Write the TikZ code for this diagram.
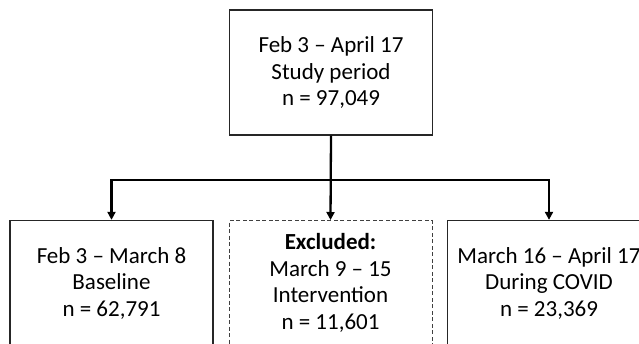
\documentclass[tikz,border=0pt]{standalone}
\usepackage{fontspec}
\setmainfont{Carlito}
\usetikzlibrary{arrows.meta}
\begin{document}
\begin{tikzpicture}[x=1pt,y=-1pt,
  box/.style={draw=black!85, line width=1.3pt, minimum width=203pt, minimum height=125pt,
    inner sep=0pt, align=center, font=\fontsize{23}{26.5}\selectfont, text=black},
  dbox/.style={box, draw=black!75, line width=1pt, dash pattern=on 4pt off 2.5pt},
  conn/.style={draw=black, line width=2.3pt},
  arr/.style={conn, -{Triangle[length=8pt,width=8pt]}}]
\useasboundingbox (0,0) rectangle (639,343);
\clip (0,0) rectangle (639,343);
\node[box] (top) at (331,72.5) {Feb 3 -- April 17\\Study period\\n = 97,049};
\node[box] (left) at (111.5,283) {Feb 3 -- March 8\\Baseline\\n = 62,791};
\node[dbox] (mid) at (330.5,283) {\textbf{Excluded:}\\March 9 -- 15\\Intervention\\n = 11,601};
\node[box] (right) at (549,283) {March 16 -- April 17\\During COVID\\n = 23,369};
\coordinate (j) at (331,180);
\draw[conn] (top) -- (j);
\draw[arr] (j) -| (left);
\draw[arr] (j) -| (right);
\draw[arr] (top.south) -- (mid.north);
\end{tikzpicture}
\end{document}
